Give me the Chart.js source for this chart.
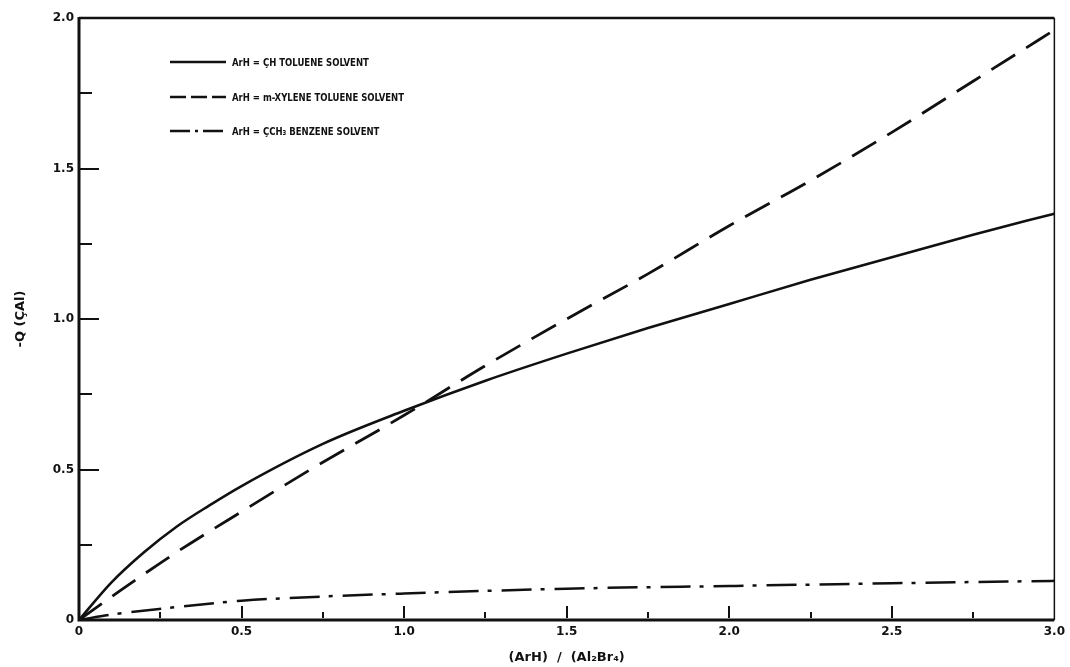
<!DOCTYPE html>
<html><head><meta charset="utf-8">
<script src="https://cdn.jsdelivr.net/npm/chart.js@4/dist/chart.umd.min.js"></script>
<style>html,body{margin:0;padding:0;background:#fff}#wrap{width:1070px;height:667px;position:relative}</style>
</head><body><div id="wrap"><canvas id="c" width="1070" height="667"></canvas></div>
<script>
// ---- data ----
const xTickLabels = ['0', '0.5', '1.0', '1.5', '2.0', '2.5', '3.0'];
const yTickLabels = ['0', '0.5', '1.0', '1.5', '2.0'];
const seriesLabels = ['ArH = ÇH TOLUENE SOLVENT', 'ArH = m-XYLENE TOLUENE SOLVENT', 'ArH = ÇCH₃ BENZENE SOLVENT'];
const xTitle = '(ArH)  /  (Al₂Br₄)';
const yTitle = '-Q (ÇAl)';

const solidX = [0, 0.1, 0.2, 0.3, 0.4, 0.5, 0.75, 1.0, 1.25, 1.5, 1.75, 2.0, 2.25, 2.5, 2.75, 3.0];
const solidY = [0, 0.125, 0.225, 0.31, 0.38, 0.445, 0.585, 0.695, 0.795, 0.885, 0.97, 1.05, 1.13, 1.205, 1.28, 1.35];
const dashedX = [0, 0.13, 0.3, 0.5, 0.72, 1.0, 1.25, 1.5, 1.75, 2.0, 2.25, 2.5, 2.75, 3.0];
const dashedY = [0, 0.10, 0.225, 0.36, 0.505, 0.68, 0.845, 1.0, 1.15, 1.31, 1.46, 1.62, 1.79, 1.96];
const dashDotX = [0, 0.1, 0.24, 0.5, 0.75, 1.0, 1.5, 2.0, 2.5, 3.0];
const dashDotY = [0, 0.018, 0.036, 0.064, 0.078, 0.088, 0.104, 0.113, 0.122, 0.13];

const pts = (xs, ys) => xs.map((x, i) => ({x: x, y: ys[i]}));
const INK = '#111';

const framePlugin = {
  id: 'frame',
  afterDraw(chart) {
    const ctx = chart.ctx, a = chart.chartArea;
    const xs = chart.scales.x, ys = chart.scales.y;
    ctx.save();
    ctx.strokeStyle = INK; ctx.lineCap = 'butt';
    // box
    ctx.lineWidth = 3;
    ctx.beginPath(); ctx.moveTo(a.left, a.top - 1); ctx.lineTo(a.left, a.bottom); ctx.lineTo(a.right, a.bottom); ctx.stroke();
    ctx.lineWidth = 2.5;
    ctx.beginPath(); ctx.moveTo(a.left, a.top); ctx.lineTo(a.right, a.top); ctx.stroke();
    ctx.lineWidth = 1.5;
    ctx.beginPath(); ctx.moveTo(a.right, a.top); ctx.lineTo(a.right, a.bottom); ctx.stroke();
    // inward ticks on y axis
    ctx.lineWidth = 2;
    for (let v = 0.25; v < 2; v += 0.25) {
      const py = Math.round(ys.getPixelForValue(v));
      const len = (Math.abs(v / 0.5 - Math.round(v / 0.5)) < 1e-6) ? 20 : 13;
      ctx.beginPath(); ctx.moveTo(a.left, py); ctx.lineTo(a.left + len, py); ctx.stroke();
    }
    // inward ticks on x axis
    for (let v = 0.25; v < 3; v += 0.25) {
      const px = Math.round(xs.getPixelForValue(v));
      const major = Math.abs(v / 0.5 - Math.round(v / 0.5)) < 1e-6;
      const len = major ? 12 : 6;
      ctx.beginPath(); ctx.moveTo(px, a.bottom - 2); ctx.lineTo(px, a.bottom - 2 - len); ctx.stroke();
    }
    // legend
    const rows = [62, 97, 131];
    chart.data.datasets.forEach((ds, i) => {
      const y = rows[i];
      ctx.lineWidth = 2.5;
      ctx.setLineDash(ds.legendDash || []);
      ctx.beginPath(); ctx.moveTo(170, y); ctx.lineTo(226, y); ctx.stroke();
      ctx.setLineDash([]);
      ctx.fillStyle = INK;
      ctx.font = 'bold 11px "DejaVu Sans Condensed", "DejaVu Sans", sans-serif';
      ctx.textBaseline = 'middle';
      const w = ctx.measureText(ds.label).width;
      ctx.fillText(ds.label, 232, y + 1, w * 0.86);
    });
    ctx.restore();
  }
};

const tickFont = {family: 'DejaVu Sans', size: 12, weight: 'bold'};

new Chart(document.getElementById('c'), {
  type: 'line',
  data: {
    datasets: [
      {label: seriesLabels[0], data: pts(solidX, solidY), borderColor: INK, borderWidth: 2.6, pointRadius: 0, cubicInterpolationMode: 'monotone', fill: false, legendDash: []},
      {label: seriesLabels[1], data: pts(dashedX, dashedY), borderColor: INK, borderWidth: 2.8, borderDash: [28, 13], pointRadius: 0, cubicInterpolationMode: 'monotone', fill: false, legendDash: [16, 5]},
      {label: seriesLabels[2], data: pts(dashDotX, dashDotY), borderColor: INK, borderWidth: 2.5, borderDash: [30, 9, 4, 10], pointRadius: 0, cubicInterpolationMode: 'monotone', fill: false, legendDash: [20, 5, 3, 5]}
    ]
  },
  options: {
    responsive: false,
    animation: false,
    devicePixelRatio: 1,
    layout: {padding: {top: 18, right: 13, left: 0, bottom: 0}},
    plugins: {legend: {display: false}, tooltip: {enabled: false}},
    scales: {
      x: {
        type: 'linear', min: 0, max: 3,
        grid: {display: false, drawTicks: false},
        border: {display: false},
        ticks: {stepSize: 0.5, padding: 5, color: INK, font: tickFont, maxRotation: 0,
          callback: (v) => { const i = Math.round(v / 0.5); return Math.abs(v - i * 0.5) < 1e-6 ? xTickLabels[i] : ''; }},
        title: {display: true, text: xTitle, color: INK, font: {family: 'DejaVu Sans', size: 13, weight: 'bold'}, padding: {top: 0, bottom: 2}},
        afterFit: (s) => { s.height = 47; }
      },
      y: {
        type: 'linear', min: 0, max: 2,
        grid: {display: false, drawTicks: false},
        border: {display: false},
        ticks: {stepSize: 0.5, padding: 5, color: INK, font: tickFont,
          callback: (v) => { const i = Math.round(v / 0.5); return Math.abs(v - i * 0.5) < 1e-6 ? yTickLabels[i] : ''; }},
        title: {display: true, text: yTitle, color: INK, font: {family: 'DejaVu Sans', size: 13, weight: 'bold'}, padding: {top: 13, bottom: 0}},
        afterFit: (s) => { s.width = 79; }
      }
    }
  },
  plugins: [framePlugin]
});
</script>
</body></html>
